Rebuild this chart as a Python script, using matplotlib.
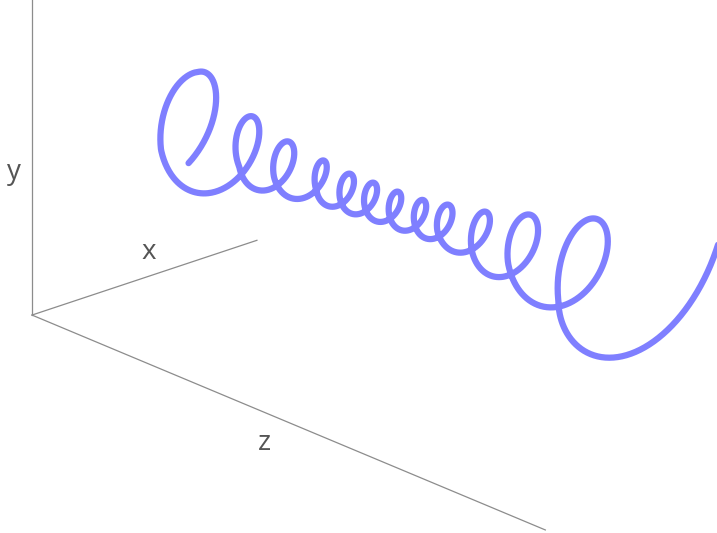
import numpy as np
import matplotlib
matplotlib.use("Agg")
import matplotlib.pyplot as plt

# helix: for each knot (in turns) its position along z,
# loop radius and the height of the helix axis
knot_turn = [-0.14, 0.21, 0.5, 1.5, 2.5, 3.5, 4.5, 5.5, 6.5, 7.5, 8.5, 9.5, 10.5, 11.5, 12.0]
knot_z = [0.03, 0.086, 0.109, 0.222, 0.287, 0.360, 0.405, 0.452, 0.500, 0.549, 0.598, 0.676, 0.761, 0.894, 0.97]
knot_r = [0.40, 0.363, 0.35, 0.17, 0.158, 0.115, 0.110, 0.105, 0.105, 0.105, 0.125, 0.176, 0.24, 0.40, 0.737]
knot_yc = [0.0, 0.02, 0.02, 0.023, 0.044, 0.049, 0.056, 0.069, 0.077, 0.093, 0.117, 0.116, 0.16, 0.14, 0.51]

x_range = [-1, 1]
y_range = [-1, 1]
z_range = [0, 1]

u = np.linspace(knot_turn[0], 12.05, 4000)
theta = 2 * np.pi * u
z = np.interp(u, knot_turn, knot_z)
r = np.interp(u, knot_turn, knot_r)
yc = np.interp(u, knot_turn, knot_yc)
x = r * np.cos(theta)
y = yc + r * np.sin(theta)

plt.rcParams["font.family"] = ["Open Sans", "DejaVu Sans"]

fig = plt.figure(figsize=(7.17, 5.33), dpi=100)
ax = fig.add_axes([0.0494, 0.0662, 1, 1], projection="3d")
ax.set_proj_type("ortho")
ax.view_init(elev=21.9, azim=-41.7, roll=0)
# mpl axes: x <- z, y <- x, z <- y (keeps the frame right-handed, y up)
ax.set_box_aspect((771, 301, 347), zoom=1.636)
ax.set_xlim(z_range)
ax.set_ylim(x_range)
ax.set_zlim(y_range)
ax.set_xticks([])
ax.set_yticks([])
ax.set_zticks([])
ax.set_axis_off()
for axis in (ax.xaxis, ax.yaxis, ax.zaxis):
    axis.label.set_visible(False)
    axis.offsetText.set_visible(False)
for t in (ax.title, ax._left_title, ax._right_title):
    t.set_visible(False)

ax.plot(z, x, y, color=(0, 0, 1), alpha=0.5, lw=4.5, solid_capstyle="round", clip_on=False)

grey = "#8c8c8c"
ax.plot([z_range[0], z_range[1]], [x_range[0]] * 2, [y_range[0]] * 2, color=grey, lw=0.9, clip_on=False)
ax.plot([z_range[0]] * 2, [x_range[0], x_range[1]], [y_range[0]] * 2, color=grey, lw=0.9, clip_on=False)
ax.plot([z_range[0]] * 2, [x_range[0]] * 2, [y_range[0], y_range[1]], color=grey, lw=0.9, clip_on=False)

label_kw = dict(color="#555555", fontsize=20, ha="center", va="center", clip_on=False)
ax.text(0.009, 0, -0.83, "x", **label_kw)
ax.text(0, -1.164, -0.073, "y", **label_kw)
ax.text(0.532, -1.362, -1, "z", **label_kw)

fig.savefig("out.png", dpi=100)
